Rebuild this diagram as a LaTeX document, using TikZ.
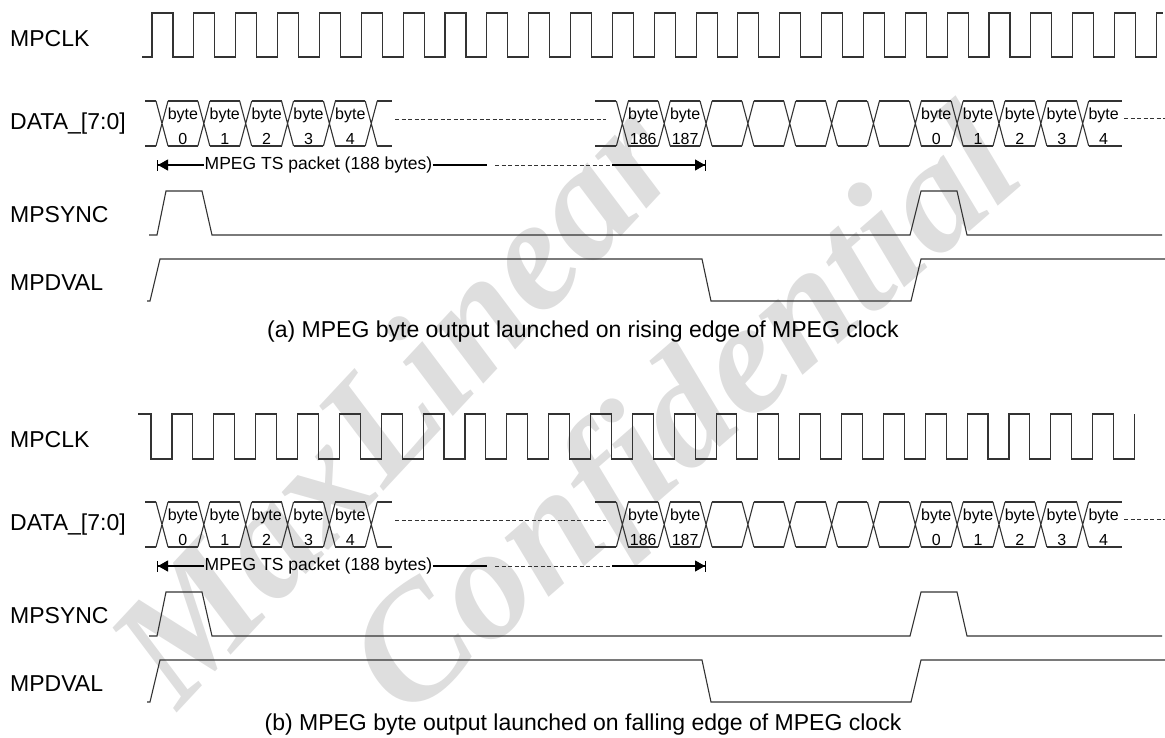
\documentclass[tikz,border=0pt]{standalone}
\usepackage{fontspec}
\setmainfont{Liberation Sans}
\newfontfamily\wmfont{Liberation Serif}
\usetikzlibrary{arrows.meta}

\begin{document}
\begin{tikzpicture}[x=1pt,y=-1pt,
  wave/.style={line width=1.1pt,black!80},
  sig/.style={font=\fontsize{23}{27}\selectfont,anchor=base west,inner sep=0pt},
  cellnum/.style={font=\fontsize{16}{25}\selectfont,align=center,inner sep=0pt},
  pkt/.style={font=\fontsize{17.5}{21}\selectfont,inner sep=0.5pt},
  captxt/.style={font=\fontsize{23}{27}\selectfont,inner sep=0pt,anchor=base},
  dots/.style={line width=0.8pt,black!80,dash pattern=on 4pt off 2.5pt},
  wmark/.style={font=\wmfont\bfseries\itshape\fontsize{160}{160}\selectfont,text=black!13,anchor=base west,inner sep=0pt},
  pkttip/.style={-{Triangle[length=10pt,width=11pt]Bar[width=11pt,line width=1pt]}}]
\useasboundingbox (0,0) rectangle (1165,737);
\def\per{41.85}
% watermark behind everything
\node[wmark,rotate=47] (wmA) at (178,712) {MaxLinear};
\node[wmark,rotate=41] (wmB) at (405,722) {Confidential};
% ===== clocks =====
% (a) launch on rising edge
\draw[wave] (142,57) \foreach \k in {0,...,23}{ -- ({152+\per*\k},57) -- ++(0,-44) -- ++(21,0) -- ++(0,44)}
  -- ({152+\per*24},57) -- ++(0,-44) -- (1163,13);
% (b) launch on falling edge
\draw[wave] (138,414) \foreach \k in {0,...,23}{ -- ({151+\per*\k},414) -- ++(0,45) -- ++(21,0) -- ++(0,-45)};
% ===== both panels share bus, sync and valid =====
\foreach \p/\oy in {a/0,b/401}{
\begin{scope}[yshift=-\oy pt]
% signal names
\node[sig] (clk\p) at (10,46.5) {MPCLK};
\node[sig] (dat\p) at (10,129) {DATA\_[7:0]};
\node[sig] (syn\p) at (10,222) {MPSYNC};
\node[sig] (val\p) at (10,290) {MPDVAL};
% data bus crossings
\foreach \k in {0,...,5,11,12,...,22}{
  \draw[wave] ({162+\per*\k-6},101) -- ++(12,45) ({162+\per*\k-6},146) -- ++(12,-45);}
\foreach \k in {0,...,4,11,12,...,21}{
  \draw[wave] ({162+\per*\k+6},101) -- ++(\per-12,0) ({162+\per*\k+6},146) -- ++(\per-12,0);}
\draw[wave] (145,101) -- (156,101) (145,146) -- (156,146);
\draw[wave] ({162+\per*5+6},101) -- (392,101) ({162+\per*5+6},146) -- (392,146);
\draw[wave] (595,101) -- ({162+\per*11-6},101) (595,146) -- ({162+\per*11-6},146);
\draw[wave] ({162+\per*22+6},101) -- (1122,101) ({162+\per*22+6},146) -- (1122,146);
\draw[dots] (395,119) -- (606,119);
\draw[dots] (1124,118) -- (1165,118);
\foreach \k/\b in {0/0,1/1,2/2,3/3,4/4,11/186,12/187,18/0,19/1,20/2,21/3,22/4}
  \node[cellnum] (cell\p\k) at ({162+\per*\k+\per/2},126) {byte\\\b};
% packet length
\node[pkt] (pkt\p) at (318.5,165) {MPEG TS packet (188 bytes)};
\coordinate (pktL\p) at (157,165);
\coordinate (pktR\p) at (706,165);
\draw[wave,black,pkttip] (pkt\p.west) -- (pktL\p);
\draw[wave,black] (pkt\p.east) -- (487,165);
\draw[dots] (495,165) -- (612,165);
\draw[wave,black,pkttip] (612,165) -- (pktR\p);
% sync and valid
\draw[wave] (149,235) -- (157,235) -- (166,191) -- (202,191) -- (212,235) -- (910,235)
  -- (921,191) -- (957,191) -- (967,235) -- (1162,235);
\draw[wave] (147,301) -- (150,301) -- (160,259) -- (702,259) -- (711,301) -- (911,301)
  -- (921,259) -- (1165,259);
\end{scope}
}
% ===== captions =====
\node[captxt] (capa) at (583,337) {(a) MPEG byte output launched on rising edge of MPEG clock};
\node[captxt] (capb) at (583,730) {(b) MPEG byte output launched on falling edge of MPEG clock};
\end{tikzpicture}
\end{document}
